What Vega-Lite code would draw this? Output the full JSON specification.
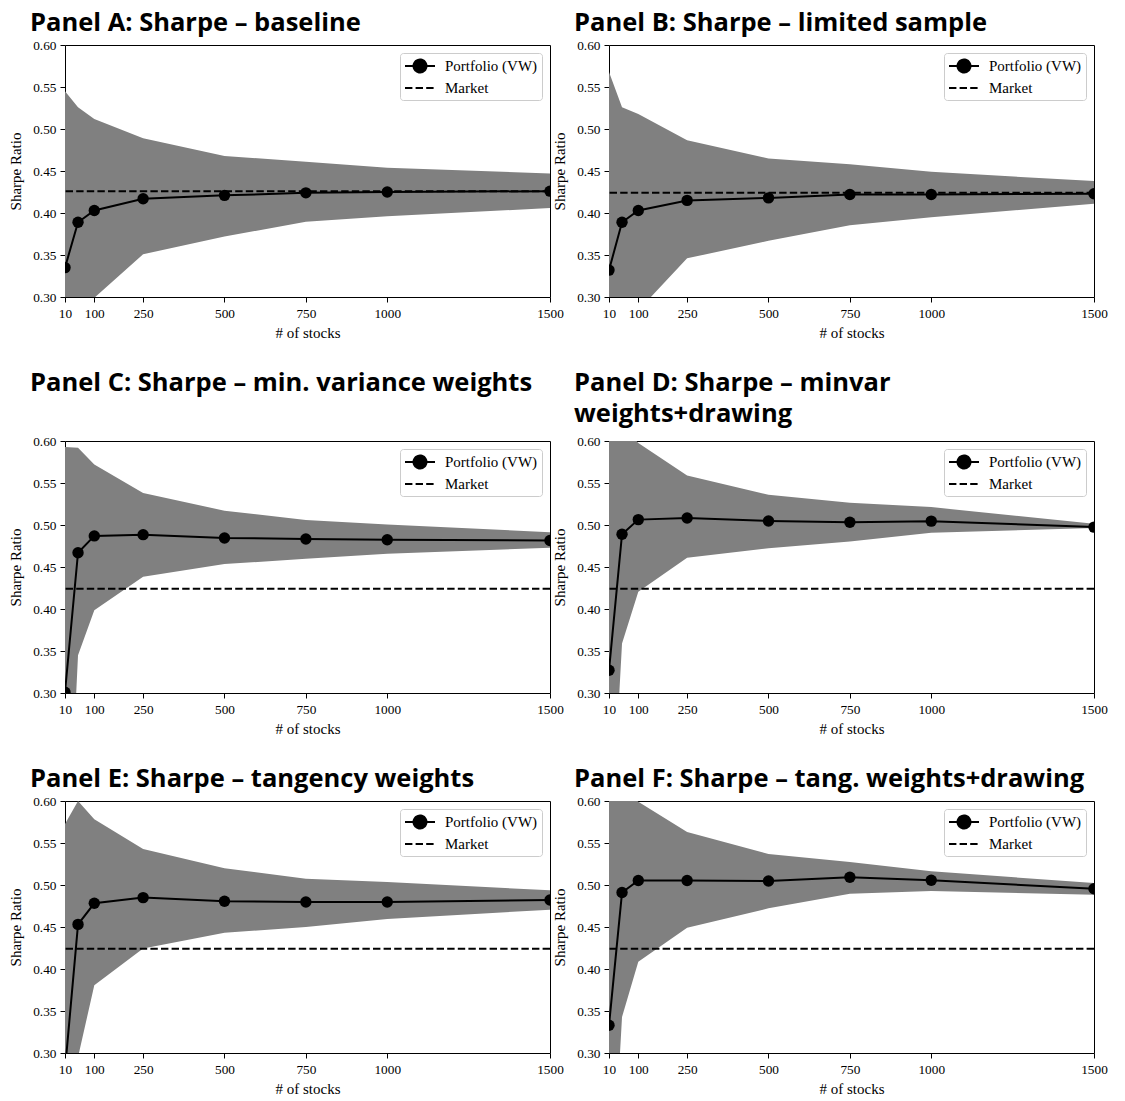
{
  "$schema": "https://vega.github.io/schema/vega-lite/v6.json",
  "background": "white",
  "padding": {"left": 8, "top": 10, "right": 5, "bottom": 2},
  "datasets": {
    "sr": [
      {"panel": "A", "n": 10, "sr": 0.335, "lo": 0.10, "hi": 0.545},
      {"panel": "A", "n": 50, "sr": 0.389, "lo": 0.22, "hi": 0.526},
      {"panel": "A", "n": 100, "sr": 0.403, "lo": 0.299, "hi": 0.512},
      {"panel": "A", "n": 250, "sr": 0.417, "lo": 0.351, "hi": 0.489},
      {"panel": "A", "n": 500, "sr": 0.421, "lo": 0.372, "hi": 0.468},
      {"panel": "A", "n": 750, "sr": 0.424, "lo": 0.3895, "hi": 0.461},
      {"panel": "A", "n": 1000, "sr": 0.425, "lo": 0.396, "hi": 0.454},
      {"panel": "A", "n": 1500, "sr": 0.426, "lo": 0.406, "hi": 0.447},
      {"panel": "B", "n": 10, "sr": 0.332, "lo": 0.10, "hi": 0.568},
      {"panel": "B", "n": 50, "sr": 0.389, "lo": 0.20, "hi": 0.526},
      {"panel": "B", "n": 100, "sr": 0.403, "lo": 0.284, "hi": 0.518},
      {"panel": "B", "n": 250, "sr": 0.415, "lo": 0.346, "hi": 0.4865},
      {"panel": "B", "n": 500, "sr": 0.418, "lo": 0.367, "hi": 0.465},
      {"panel": "B", "n": 750, "sr": 0.422, "lo": 0.3855, "hi": 0.458},
      {"panel": "B", "n": 1000, "sr": 0.422, "lo": 0.395, "hi": 0.449},
      {"panel": "B", "n": 1500, "sr": 0.423, "lo": 0.411, "hi": 0.438},
      {"panel": "C", "n": 10, "sr": 0.301, "lo": 0.02, "hi": 0.593},
      {"panel": "C", "n": 50, "sr": 0.467, "lo": 0.345, "hi": 0.592},
      {"panel": "C", "n": 100, "sr": 0.487, "lo": 0.3986, "hi": 0.572},
      {"panel": "C", "n": 250, "sr": 0.4885, "lo": 0.4384, "hi": 0.538},
      {"panel": "C", "n": 500, "sr": 0.4846, "lo": 0.4535, "hi": 0.517},
      {"panel": "C", "n": 750, "sr": 0.4834, "lo": 0.4597, "hi": 0.506},
      {"panel": "C", "n": 1000, "sr": 0.4824, "lo": 0.4657, "hi": 0.5007},
      {"panel": "C", "n": 1500, "sr": 0.4816, "lo": 0.4729, "hi": 0.4915},
      {"panel": "D", "n": 10, "sr": 0.327, "lo": 0.075, "hi": 0.70},
      {"panel": "D", "n": 50, "sr": 0.489, "lo": 0.359, "hi": 0.622},
      {"panel": "D", "n": 100, "sr": 0.5064, "lo": 0.4205, "hi": 0.5975},
      {"panel": "D", "n": 250, "sr": 0.5084, "lo": 0.461, "hi": 0.559},
      {"panel": "D", "n": 500, "sr": 0.5048, "lo": 0.4722, "hi": 0.536},
      {"panel": "D", "n": 750, "sr": 0.5033, "lo": 0.4804, "hi": 0.5265},
      {"panel": "D", "n": 1000, "sr": 0.5046, "lo": 0.4907, "hi": 0.5213},
      {"panel": "D", "n": 1500, "sr": 0.4975, "lo": 0.4963, "hi": 0.5015},
      {"panel": "E", "n": 10, "sr": 0.28, "lo": 0.15, "hi": 0.5725},
      {"panel": "E", "n": 50, "sr": 0.4531, "lo": 0.295, "hi": 0.600},
      {"panel": "E", "n": 100, "sr": 0.4782, "lo": 0.3807, "hi": 0.5784},
      {"panel": "E", "n": 250, "sr": 0.485, "lo": 0.4245, "hi": 0.543},
      {"panel": "E", "n": 500, "sr": 0.4806, "lo": 0.4432, "hi": 0.520},
      {"panel": "E", "n": 750, "sr": 0.4798, "lo": 0.450, "hi": 0.5075},
      {"panel": "E", "n": 1000, "sr": 0.4798, "lo": 0.4595, "hi": 0.5036},
      {"panel": "E", "n": 1500, "sr": 0.4821, "lo": 0.4706, "hi": 0.4937},
      {"panel": "F", "n": 10, "sr": 0.333, "lo": 0.067, "hi": 0.70},
      {"panel": "F", "n": 50, "sr": 0.491, "lo": 0.343, "hi": 0.622},
      {"panel": "F", "n": 100, "sr": 0.5053, "lo": 0.4086, "hi": 0.599},
      {"panel": "F", "n": 250, "sr": 0.5053, "lo": 0.449, "hi": 0.563},
      {"panel": "F", "n": 500, "sr": 0.5048, "lo": 0.4722, "hi": 0.537},
      {"panel": "F", "n": 750, "sr": 0.5092, "lo": 0.4897, "hi": 0.5274},
      {"panel": "F", "n": 1000, "sr": 0.5056, "lo": 0.4929, "hi": 0.5163},
      {"panel": "F", "n": 1500, "sr": 0.4956, "lo": 0.4885, "hi": 0.5024}
    ],
    "mkt": [
      {"panel": "A", "mkt": 0.426, "series": "Market"},
      {"panel": "B", "mkt": 0.424, "series": "Market"},
      {"panel": "C", "mkt": 0.424, "series": "Market"},
      {"panel": "D", "mkt": 0.424, "series": "Market"},
      {"panel": "E", "mkt": 0.424, "series": "Market"},
      {"panel": "F", "mkt": 0.424, "series": "Market"}
    ]
  },
  "spacing": 29,
  "resolve": {"scale": {"shape": "independent", "strokeDash": "independent"}, "legend": {"shape": "independent", "strokeDash": "independent"}},
  "vconcat": [
    {
      "bounds": "flush", "spacing": 59,
      "resolve": {"scale": {"shape": "independent", "strokeDash": "independent"}, "legend": {"shape": "independent", "strokeDash": "independent"}},
      "hconcat": [
        {
          "width": 485, "height": 252,
          "title": {"text": "Panel A: Sharpe – baseline"},
          "layer": [
            {"data": {"name": "sr"}, "transform": [{"filter": "datum.panel === 'A'"}], "mark": {"type": "area", "color": "#808080", "clip": true},
             "encoding": {"x": {"field": "n", "type": "quantitative", "scale": {"domain": [10, 1500], "nice": false, "zero": false}, "axis": {"values": [10, 100, 250, 500, 750, 1000, 1500], "format": "d", "title": "# of stocks"}},
                          "y": {"field": "lo", "type": "quantitative", "scale": {"domain": [0.3, 0.6], "nice": false, "zero": false}, "axis": {"values": [0.3, 0.35, 0.4, 0.45, 0.5, 0.55, 0.6], "format": ".2f", "title": "Sharpe Ratio"}},
                          "y2": {"field": "hi"}}},
            {"data": {"name": "mkt"}, "transform": [{"filter": "datum.panel === 'A'"}], "mark": {"type": "rule", "color": "black", "strokeWidth": 2, "strokeDash": [7.4, 3.2], "clip": true},
             "encoding": {"y": {"field": "mkt", "type": "quantitative"}}},
            {"data": {"name": "sr"}, "transform": [{"filter": "datum.panel === 'A'"}], "mark": {"type": "line", "color": "black", "strokeWidth": 2, "clip": true},
             "encoding": {"x": {"field": "n", "type": "quantitative"}, "y": {"field": "sr", "type": "quantitative"}}},
            {"data": {"name": "sr"}, "transform": [{"filter": "datum.panel === 'A'"}], "mark": {"type": "point", "filled": true, "color": "black", "size": 130, "opacity": 1, "clip": true},
             "encoding": {"x": {"field": "n", "type": "quantitative"}, "y": {"field": "sr", "type": "quantitative"}}},
            {"data": {"name": "mkt"}, "transform": [{"filter": "false"}], "mark": {"type": "point", "filled": false, "color": "black", "fill": "black", "strokeWidth": 2, "opacity": 1},
             "encoding": {
               "shape": {"field": "series", "type": "nominal", "scale": {"domain": ["Portfolio (VW)", "Market"], "range": ["M-1,0H2.75M0.065,0A0.81,0.81,0,1,1,1.685,0A0.81,0.81,0,1,1,0.065,0Z", "M-1,0H2.75"]}, "legend": {"title": null, "encoding": {"symbols": {"stroke": {"value": "black"}, "strokeWidth": {"value": 2}, "strokeOpacity": {"value": 1}}}}},
               "strokeDash": {"field": "series", "type": "nominal", "scale": {"domain": ["Portfolio (VW)", "Market"], "range": [[1, 0], [7.4, 3.2]]}, "legend": {"title": null, "encoding": {"symbols": {"stroke": {"value": "black"}, "strokeWidth": {"value": 2}, "strokeOpacity": {"value": 1}}}}}}}
          ]
        },
        {
          "width": 485, "height": 252,
          "title": {"text": "Panel B: Sharpe – limited sample"},
          "layer": [
            {"data": {"name": "sr"}, "transform": [{"filter": "datum.panel === 'B'"}], "mark": {"type": "area", "color": "#808080", "clip": true},
             "encoding": {"x": {"field": "n", "type": "quantitative", "scale": {"domain": [10, 1500], "nice": false, "zero": false}, "axis": {"values": [10, 100, 250, 500, 750, 1000, 1500], "format": "d", "title": "# of stocks"}},
                          "y": {"field": "lo", "type": "quantitative", "scale": {"domain": [0.3, 0.6], "nice": false, "zero": false}, "axis": {"values": [0.3, 0.35, 0.4, 0.45, 0.5, 0.55, 0.6], "format": ".2f", "title": "Sharpe Ratio"}},
                          "y2": {"field": "hi"}}},
            {"data": {"name": "mkt"}, "transform": [{"filter": "datum.panel === 'B'"}], "mark": {"type": "rule", "color": "black", "strokeWidth": 2, "strokeDash": [7.4, 3.2], "clip": true},
             "encoding": {"y": {"field": "mkt", "type": "quantitative"}}},
            {"data": {"name": "sr"}, "transform": [{"filter": "datum.panel === 'B'"}], "mark": {"type": "line", "color": "black", "strokeWidth": 2, "clip": true},
             "encoding": {"x": {"field": "n", "type": "quantitative"}, "y": {"field": "sr", "type": "quantitative"}}},
            {"data": {"name": "sr"}, "transform": [{"filter": "datum.panel === 'B'"}], "mark": {"type": "point", "filled": true, "color": "black", "size": 130, "opacity": 1, "clip": true},
             "encoding": {"x": {"field": "n", "type": "quantitative"}, "y": {"field": "sr", "type": "quantitative"}}},
            {"data": {"name": "mkt"}, "transform": [{"filter": "false"}], "mark": {"type": "point", "filled": false, "color": "black", "fill": "black", "strokeWidth": 2, "opacity": 1},
             "encoding": {
               "shape": {"field": "series", "type": "nominal", "scale": {"domain": ["Portfolio (VW)", "Market"], "range": ["M-1,0H2.75M0.065,0A0.81,0.81,0,1,1,1.685,0A0.81,0.81,0,1,1,0.065,0Z", "M-1,0H2.75"]}, "legend": {"title": null, "encoding": {"symbols": {"stroke": {"value": "black"}, "strokeWidth": {"value": 2}, "strokeOpacity": {"value": 1}}}}},
               "strokeDash": {"field": "series", "type": "nominal", "scale": {"domain": ["Portfolio (VW)", "Market"], "range": [[1, 0], [7.4, 3.2]]}, "legend": {"title": null, "encoding": {"symbols": {"stroke": {"value": "black"}, "strokeWidth": {"value": 2}, "strokeOpacity": {"value": 1}}}}}}}
          ]
        }
      ]
    },
    {
      "bounds": "flush", "spacing": 59,
      "resolve": {"scale": {"shape": "independent", "strokeDash": "independent"}, "legend": {"shape": "independent", "strokeDash": "independent"}},
      "hconcat": [
        {
          "width": 485, "height": 252,
          "title": {"text": ["Panel C: Sharpe – min. variance weights", " "], "offset": 7},
          "layer": [
            {"data": {"name": "sr"}, "transform": [{"filter": "datum.panel === 'C'"}], "mark": {"type": "area", "color": "#808080", "clip": true},
             "encoding": {"x": {"field": "n", "type": "quantitative", "scale": {"domain": [10, 1500], "nice": false, "zero": false}, "axis": {"values": [10, 100, 250, 500, 750, 1000, 1500], "format": "d", "title": "# of stocks"}},
                          "y": {"field": "lo", "type": "quantitative", "scale": {"domain": [0.3, 0.6], "nice": false, "zero": false}, "axis": {"values": [0.3, 0.35, 0.4, 0.45, 0.5, 0.55, 0.6], "format": ".2f", "title": "Sharpe Ratio"}},
                          "y2": {"field": "hi"}}},
            {"data": {"name": "mkt"}, "transform": [{"filter": "datum.panel === 'C'"}], "mark": {"type": "rule", "color": "black", "strokeWidth": 2, "strokeDash": [7.4, 3.2], "clip": true},
             "encoding": {"y": {"field": "mkt", "type": "quantitative"}}},
            {"data": {"name": "sr"}, "transform": [{"filter": "datum.panel === 'C'"}], "mark": {"type": "line", "color": "black", "strokeWidth": 2, "clip": true},
             "encoding": {"x": {"field": "n", "type": "quantitative"}, "y": {"field": "sr", "type": "quantitative"}}},
            {"data": {"name": "sr"}, "transform": [{"filter": "datum.panel === 'C'"}], "mark": {"type": "point", "filled": true, "color": "black", "size": 130, "opacity": 1, "clip": true},
             "encoding": {"x": {"field": "n", "type": "quantitative"}, "y": {"field": "sr", "type": "quantitative"}}},
            {"data": {"name": "mkt"}, "transform": [{"filter": "false"}], "mark": {"type": "point", "filled": false, "color": "black", "fill": "black", "strokeWidth": 2, "opacity": 1},
             "encoding": {
               "shape": {"field": "series", "type": "nominal", "scale": {"domain": ["Portfolio (VW)", "Market"], "range": ["M-1,0H2.75M0.065,0A0.81,0.81,0,1,1,1.685,0A0.81,0.81,0,1,1,0.065,0Z", "M-1,0H2.75"]}, "legend": {"title": null, "encoding": {"symbols": {"stroke": {"value": "black"}, "strokeWidth": {"value": 2}, "strokeOpacity": {"value": 1}}}}},
               "strokeDash": {"field": "series", "type": "nominal", "scale": {"domain": ["Portfolio (VW)", "Market"], "range": [[1, 0], [7.4, 3.2]]}, "legend": {"title": null, "encoding": {"symbols": {"stroke": {"value": "black"}, "strokeWidth": {"value": 2}, "strokeOpacity": {"value": 1}}}}}}}
          ]
        },
        {
          "width": 485, "height": 252,
          "title": {"text": ["Panel D: Sharpe – minvar", "weights+drawing"], "offset": 7},
          "layer": [
            {"data": {"name": "sr"}, "transform": [{"filter": "datum.panel === 'D'"}], "mark": {"type": "area", "color": "#808080", "clip": true},
             "encoding": {"x": {"field": "n", "type": "quantitative", "scale": {"domain": [10, 1500], "nice": false, "zero": false}, "axis": {"values": [10, 100, 250, 500, 750, 1000, 1500], "format": "d", "title": "# of stocks"}},
                          "y": {"field": "lo", "type": "quantitative", "scale": {"domain": [0.3, 0.6], "nice": false, "zero": false}, "axis": {"values": [0.3, 0.35, 0.4, 0.45, 0.5, 0.55, 0.6], "format": ".2f", "title": "Sharpe Ratio"}},
                          "y2": {"field": "hi"}}},
            {"data": {"name": "mkt"}, "transform": [{"filter": "datum.panel === 'D'"}], "mark": {"type": "rule", "color": "black", "strokeWidth": 2, "strokeDash": [7.4, 3.2], "clip": true},
             "encoding": {"y": {"field": "mkt", "type": "quantitative"}}},
            {"data": {"name": "sr"}, "transform": [{"filter": "datum.panel === 'D'"}], "mark": {"type": "line", "color": "black", "strokeWidth": 2, "clip": true},
             "encoding": {"x": {"field": "n", "type": "quantitative"}, "y": {"field": "sr", "type": "quantitative"}}},
            {"data": {"name": "sr"}, "transform": [{"filter": "datum.panel === 'D'"}], "mark": {"type": "point", "filled": true, "color": "black", "size": 130, "opacity": 1, "clip": true},
             "encoding": {"x": {"field": "n", "type": "quantitative"}, "y": {"field": "sr", "type": "quantitative"}}},
            {"data": {"name": "mkt"}, "transform": [{"filter": "false"}], "mark": {"type": "point", "filled": false, "color": "black", "fill": "black", "strokeWidth": 2, "opacity": 1},
             "encoding": {
               "shape": {"field": "series", "type": "nominal", "scale": {"domain": ["Portfolio (VW)", "Market"], "range": ["M-1,0H2.75M0.065,0A0.81,0.81,0,1,1,1.685,0A0.81,0.81,0,1,1,0.065,0Z", "M-1,0H2.75"]}, "legend": {"title": null, "encoding": {"symbols": {"stroke": {"value": "black"}, "strokeWidth": {"value": 2}, "strokeOpacity": {"value": 1}}}}},
               "strokeDash": {"field": "series", "type": "nominal", "scale": {"domain": ["Portfolio (VW)", "Market"], "range": [[1, 0], [7.4, 3.2]]}, "legend": {"title": null, "encoding": {"symbols": {"stroke": {"value": "black"}, "strokeWidth": {"value": 2}, "strokeOpacity": {"value": 1}}}}}}}
          ]
        }
      ]
    },
    {
      "bounds": "flush", "spacing": 59,
      "resolve": {"scale": {"shape": "independent", "strokeDash": "independent"}, "legend": {"shape": "independent", "strokeDash": "independent"}},
      "hconcat": [
        {
          "width": 485, "height": 252,
          "title": {"text": "Panel E: Sharpe – tangency weights"},
          "layer": [
            {"data": {"name": "sr"}, "transform": [{"filter": "datum.panel === 'E'"}], "mark": {"type": "area", "color": "#808080", "clip": true},
             "encoding": {"x": {"field": "n", "type": "quantitative", "scale": {"domain": [10, 1500], "nice": false, "zero": false}, "axis": {"values": [10, 100, 250, 500, 750, 1000, 1500], "format": "d", "title": "# of stocks"}},
                          "y": {"field": "lo", "type": "quantitative", "scale": {"domain": [0.3, 0.6], "nice": false, "zero": false}, "axis": {"values": [0.3, 0.35, 0.4, 0.45, 0.5, 0.55, 0.6], "format": ".2f", "title": "Sharpe Ratio"}},
                          "y2": {"field": "hi"}}},
            {"data": {"name": "mkt"}, "transform": [{"filter": "datum.panel === 'E'"}], "mark": {"type": "rule", "color": "black", "strokeWidth": 2, "strokeDash": [7.4, 3.2], "clip": true},
             "encoding": {"y": {"field": "mkt", "type": "quantitative"}}},
            {"data": {"name": "sr"}, "transform": [{"filter": "datum.panel === 'E'"}], "mark": {"type": "line", "color": "black", "strokeWidth": 2, "clip": true},
             "encoding": {"x": {"field": "n", "type": "quantitative"}, "y": {"field": "sr", "type": "quantitative"}}},
            {"data": {"name": "sr"}, "transform": [{"filter": "datum.panel === 'E'"}], "mark": {"type": "point", "filled": true, "color": "black", "size": 130, "opacity": 1, "clip": true},
             "encoding": {"x": {"field": "n", "type": "quantitative"}, "y": {"field": "sr", "type": "quantitative"}}},
            {"data": {"name": "mkt"}, "transform": [{"filter": "false"}], "mark": {"type": "point", "filled": false, "color": "black", "fill": "black", "strokeWidth": 2, "opacity": 1},
             "encoding": {
               "shape": {"field": "series", "type": "nominal", "scale": {"domain": ["Portfolio (VW)", "Market"], "range": ["M-1,0H2.75M0.065,0A0.81,0.81,0,1,1,1.685,0A0.81,0.81,0,1,1,0.065,0Z", "M-1,0H2.75"]}, "legend": {"title": null, "encoding": {"symbols": {"stroke": {"value": "black"}, "strokeWidth": {"value": 2}, "strokeOpacity": {"value": 1}}}}},
               "strokeDash": {"field": "series", "type": "nominal", "scale": {"domain": ["Portfolio (VW)", "Market"], "range": [[1, 0], [7.4, 3.2]]}, "legend": {"title": null, "encoding": {"symbols": {"stroke": {"value": "black"}, "strokeWidth": {"value": 2}, "strokeOpacity": {"value": 1}}}}}}}
          ]
        },
        {
          "width": 485, "height": 252,
          "title": {"text": "Panel F: Sharpe – tang. weights+drawing"},
          "layer": [
            {"data": {"name": "sr"}, "transform": [{"filter": "datum.panel === 'F'"}], "mark": {"type": "area", "color": "#808080", "clip": true},
             "encoding": {"x": {"field": "n", "type": "quantitative", "scale": {"domain": [10, 1500], "nice": false, "zero": false}, "axis": {"values": [10, 100, 250, 500, 750, 1000, 1500], "format": "d", "title": "# of stocks"}},
                          "y": {"field": "lo", "type": "quantitative", "scale": {"domain": [0.3, 0.6], "nice": false, "zero": false}, "axis": {"values": [0.3, 0.35, 0.4, 0.45, 0.5, 0.55, 0.6], "format": ".2f", "title": "Sharpe Ratio"}},
                          "y2": {"field": "hi"}}},
            {"data": {"name": "mkt"}, "transform": [{"filter": "datum.panel === 'F'"}], "mark": {"type": "rule", "color": "black", "strokeWidth": 2, "strokeDash": [7.4, 3.2], "clip": true},
             "encoding": {"y": {"field": "mkt", "type": "quantitative"}}},
            {"data": {"name": "sr"}, "transform": [{"filter": "datum.panel === 'F'"}], "mark": {"type": "line", "color": "black", "strokeWidth": 2, "clip": true},
             "encoding": {"x": {"field": "n", "type": "quantitative"}, "y": {"field": "sr", "type": "quantitative"}}},
            {"data": {"name": "sr"}, "transform": [{"filter": "datum.panel === 'F'"}], "mark": {"type": "point", "filled": true, "color": "black", "size": 130, "opacity": 1, "clip": true},
             "encoding": {"x": {"field": "n", "type": "quantitative"}, "y": {"field": "sr", "type": "quantitative"}}},
            {"data": {"name": "mkt"}, "transform": [{"filter": "false"}], "mark": {"type": "point", "filled": false, "color": "black", "fill": "black", "strokeWidth": 2, "opacity": 1},
             "encoding": {
               "shape": {"field": "series", "type": "nominal", "scale": {"domain": ["Portfolio (VW)", "Market"], "range": ["M-1,0H2.75M0.065,0A0.81,0.81,0,1,1,1.685,0A0.81,0.81,0,1,1,0.065,0Z", "M-1,0H2.75"]}, "legend": {"title": null, "encoding": {"symbols": {"stroke": {"value": "black"}, "strokeWidth": {"value": 2}, "strokeOpacity": {"value": 1}}}}},
               "strokeDash": {"field": "series", "type": "nominal", "scale": {"domain": ["Portfolio (VW)", "Market"], "range": [[1, 0], [7.4, 3.2]]}, "legend": {"title": null, "encoding": {"symbols": {"stroke": {"value": "black"}, "strokeWidth": {"value": 2}, "strokeOpacity": {"value": 1}}}}}}}
          ]
        }
      ]
    }
  ],
  "config": {
    "view": {"stroke": "black", "strokeWidth": 1},
    "axis": {"grid": false, "domain": false, "ticks": true, "tickColor": "black", "tickSize": 5, "tickWidth": 1,
             "labelFont": "Liberation Serif", "labelFontSize": 13.3, "labelColor": "black", "labelPadding": 4,
             "titleFont": "Liberation Serif", "titleFontSize": 15, "titleFontWeight": "normal", "titleColor": "black",
             "labelFlush": false, "labelOverlap": false},
    "axisY": {"titlePadding": 9},
    "axisX": {"titlePadding": 6},
    "title": {"font": "Open Sans", "fontSize": 25.5, "fontWeight": "bold", "color": "black", "anchor": "start", "frame": "group", "dx": -35, "offset": 2, "lineHeight": 31},
    "legend": {"orient": "top-right", "offset": 8, "symbolSize": 256, "symbolStrokeWidth": 2, "symbolStrokeColor": "black", "symbolFillColor": "black",
               "labelFont": "Liberation Serif", "labelFontSize": 15, "labelColor": "black", "labelOffset": 23, "padding": 4,
               "fillColor": "white", "strokeColor": "#cccccc", "cornerRadius": 3, "rowPadding": 2}
  }
}
